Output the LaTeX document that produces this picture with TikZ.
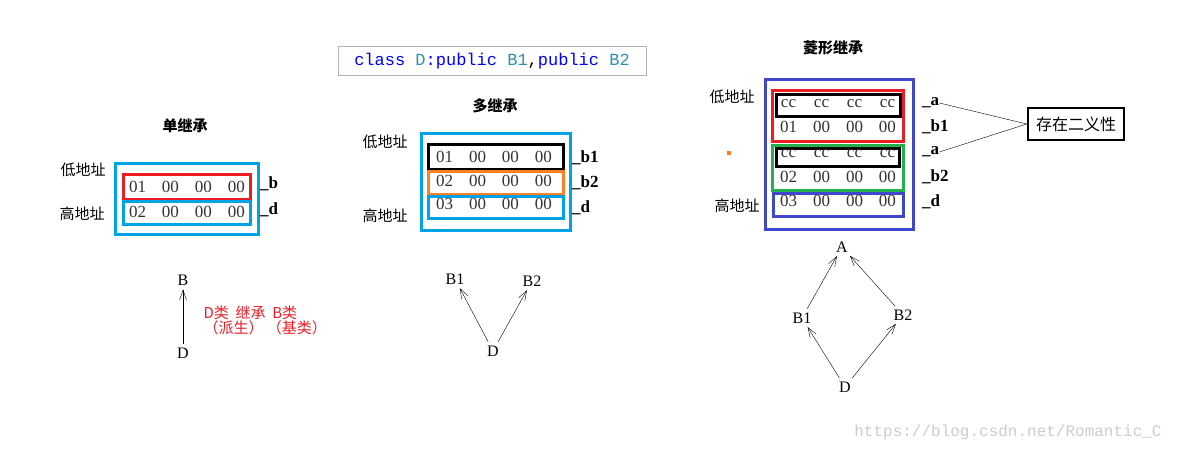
\documentclass[tikz,border=0pt]{standalone}
\usepackage{fontspec}
\setmainfont{Liberation Serif}
\setmonofont{Liberation Mono}
\newfontfamily\cjk{Noto Sans CJK SC}
\usetikzlibrary{arrows.meta, positioning}
\definecolor{cyanbox}{RGB}{0,162,232}
\definecolor{redbox}{RGB}{237,28,36}
\definecolor{orangebox}{RGB}{255,127,39}
\definecolor{greenbox}{RGB}{34,177,76}
\definecolor{bluebox}{RGB}{63,72,204}
\definecolor{kw}{RGB}{0,0,255}
\definecolor{ty}{RGB}{43,145,175}
\newcommand{\memrow}[4]{\makebox[33pt]{#1}\makebox[33pt]{#2}\makebox[33pt]{#3}\makebox[33pt]{#4}}
\tikzset{
  cell/.style    = {font=\fontsize{17}{17}\selectfont, inner sep=0pt, text=black!80},
  cn/.style      = {font=\cjk\fontsize{15}{15}\selectfont, inner sep=0pt},
  title/.style   = {font=\cjk\bfseries\fontsize{15}{15}\selectfont, inner sep=0pt},
  tag/.style     = {font=\bfseries\fontsize{17}{17}\selectfont, inner sep=0pt, anchor=west},
  cls/.style     = {font=\fontsize{16}{16}\selectfont, inner sep=1pt},
  frame/.style   = {draw, line width=3pt},
  inh/.style     = {draw, -{Straight Barb[length=10pt,width=7pt]}, shorten >=3pt, shorten <=3pt}
}
\begin{document}
\begin{tikzpicture}[x=1pt, y=-1pt]
\useasboundingbox (0,0) rectangle (1179,452);

% single inheritance
\node [title] (t1) at (185,126) {单继承};
\draw [frame, cyanbox] (115,163) rectangle (258,234);
\draw [frame, redbox]  (123,174) rectangle (250,199);
\draw [frame, cyanbox] (123,201) rectangle (250,224);
\node [cell] (s1) at (187,187) {\memrow{01}{00}{00}{00}};
\node [cell] (s2) at (187,212) {\memrow{02}{00}{00}{00}};
\node [cn] (lo1) at (83,170) {低地址};
\node [cn] (hi1) at (82,214) {高地址};
\node [tag] (sb) at (260,184) {\_b};
\node [tag] (sd) at (260,210) {\_d};
\node [cls] (B) at (183,280) {B};
\node [cls] (D) at (183,353) {D};
\path [inh] (D) -- (B);
\node [font=\cjk\fontsize{15}{15}\selectfont, text=redbox, anchor=west, align=left] (note) at (200,320)
  {D类\ \ 继承\ \ B类\\（派生）\ （基类）};

% multiple inheritance
\node [draw=black!30, font=\ttfamily\fontsize{17}{17}\selectfont, minimum height=29pt, minimum width=308pt, inner sep=2pt] (code) at (492,61)
  {\textcolor{kw}{class} \textcolor{ty}{D}\textcolor{kw}{:public} \textcolor{ty}{B1},\textcolor{kw}{public} \textcolor{ty}{B2}};
\node [title] (t2) at (495,106) {多继承};
\draw [frame, cyanbox]   (421,133) rectangle (570,230);
\draw [frame, black]     (428,144) rectangle (563,169);
\draw [frame, orangebox] (428,171) rectangle (563,194);
\draw [frame, cyanbox]   (428,196) rectangle (563,218);
\node [cell] (m1) at (494,157) {\memrow{01}{00}{00}{00}};
\node [cell] (m2) at (494,181) {\memrow{02}{00}{00}{00}};
\node [cell] (m3) at (494,204) {\memrow{03}{00}{00}{00}};
\node [cn] (lo2) at (385,142) {低地址};
\node [cn] (hi2) at (385,216) {高地址};
\node [tag] (mb1) at (572,158) {\_b1};
\node [tag] (mb2) at (572,183) {\_b2};
\node [tag] (md)  at (572,208) {\_d};
\node [cls] (MB1) at (455,279) {B1};
\node [cls] (MB2) at (532,281) {B2};
\node [cls] (MD)  at (493,351) {D};
\path [inh] (MD) -- (MB1);
\path [inh] (MD) -- (MB2);

% diamond inheritance
\node [title] (t3) at (833,48) {菱形继承};
\draw [frame, bluebox]  (765,80) rectangle (913,229);
\draw [frame, redbox]   (772,91) rectangle (903,141);
\draw [frame, black]    (776,95) rectangle (900,116);
\draw [frame, greenbox] (772,145) rectangle (903,190);
\draw [frame, black]    (776,148) rectangle (899,166);
\draw [frame, bluebox]  (773,193) rectangle (903,216);
\node [cell] (r1) at (838,104) {\memrow{cc}{cc}{cc}{cc}};
\node [cell] (r2) at (838,127) {\memrow{01}{00}{00}{00}};
\node [cell] (r3) at (838,154) {\memrow{cc}{cc}{cc}{cc}};
\node [cell] (r4) at (838,177) {\memrow{02}{00}{00}{00}};
\node [cell] (r5) at (838,201) {\memrow{03}{00}{00}{00}};
\node [cn] (lo3) at (732,97)  {低地址};
\node [cn] (hi3) at (737,206) {高地址};
\fill [orangebox] (727,151) rectangle (731,155);
\node [tag] (da1) at (922,103) {\_a};
\node [tag] (db1) at (922,127) {\_b1};
\node [tag] (da2) at (922,152) {\_a};
\node [tag] (db2) at (922,177) {\_b2};
\node [tag] (dd)  at (922,202) {\_d};
\node [draw, line width=2.5pt, font=\cjk\fontsize{16}{16}\selectfont, minimum width=96pt, minimum height=32pt, inner sep=1pt] (amb) at (1076,124) {存在二义性};
\draw (da1.east) -- (amb.west);
\draw (da2.east) -- (amb.west);
\node [cls] (A)   at (842,247) {A};
\node [cls] (DB1) at (802,318) {B1};
\node [cls] (DB2) at (903,315) {B2};
\node [cls] (DD)  at (845,387) {D};
\path [inh] (DD) -- (DB1);
\path [inh] (DD) -- (DB2);
\path [inh] (DB1) -- (A);
\path [inh] (DB2) -- (A);

\node [font=\ttfamily\fontsize{16}{16}\selectfont, text=black!20, inner sep=0pt] (mark) at (1008,432) {https://blog.csdn.net/Romantic\_C};
\end{tikzpicture}
\end{document}
